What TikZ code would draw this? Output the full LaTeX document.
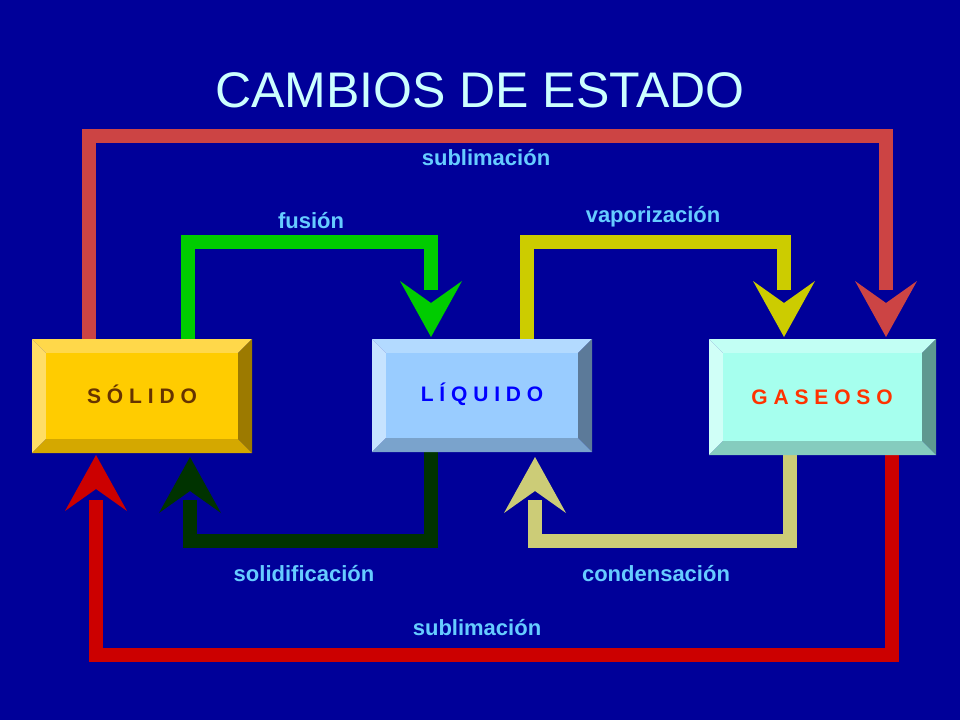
\documentclass[tikz,border=0pt]{standalone}
\usepackage{fontspec}
\setmainfont{Liberation Sans}
\begin{document}
\begin{tikzpicture}[x=1pt,y=-1pt,
  lbl/.style={font=\bfseries\fontsize{22}{24}\selectfont,text=lbl},
  boxtxt/.style={font=\bfseries\fontsize{21}{24}\selectfont},
  flow/.style={line width=14pt,line cap=butt,line join=miter}]
\definecolor{bg}{HTML}{000099}
\definecolor{lbl}{HTML}{66CCFF}
\definecolor{ttl}{HTML}{CCFFFF}
\definecolor{cRedA}{HTML}{CC4444}
\definecolor{cRedB}{HTML}{CC0000}
\definecolor{cGreen}{HTML}{00CC00}
\definecolor{cDark}{HTML}{003300}
\definecolor{cYel}{HTML}{CCCC00}
\definecolor{cKhaki}{HTML}{CCCC77}
\fill[bg] (0,0) rectangle (960,720);
\useasboundingbox (0,0) rectangle (960,720);
% bevel box macro
\newcommand\bbox[9]{% x1 y1 x2 y2 face top left right bottom
  \fill[#6] (#1,#2) -- (#3,#2) -- (#3-14,#2+14) -- (#1+14,#2+14) -- cycle;
  \fill[#7] (#1,#2) -- (#1+14,#2+14) -- (#1+14,#4-14) -- (#1,#4) -- cycle;
  \fill[#8] (#3,#2) -- (#3,#4) -- (#3-14,#4-14) -- (#3-14,#2+14) -- cycle;
  \fill[#9] (#1,#4) -- (#1+14,#4-14) -- (#3-14,#4-14) -- (#3,#4) -- cycle;
  \fill[#5] (#1+14,#2+14) rectangle (#3-14,#4-14);}
\newcommand\headdown[3]{\fill[#3] (#1,#2) -- (#1-31,#2-56) -- (#1,#2-34) -- (#1+31,#2-56) -- cycle;}
\newcommand\headup[3]{\fill[#3] (#1,#2) -- (#1-31,#2+56) -- (#1,#2+34) -- (#1+31,#2+56) -- cycle;}
% connectors
\draw[flow,cRedA] (89,339) -- (89,136) -- (886,136) -- (886,290);
\headdown{886}{337}{cRedA}
\draw[flow,cGreen] (188,339) -- (188,242) -- (431,242) -- (431,290);
\headdown{431}{337}{cGreen}
\draw[flow,cYel] (527,339) -- (527,242) -- (784,242) -- (784,290);
\headdown{784}{337}{cYel}
\draw[flow,cDark] (431,452) -- (431,541) -- (190,541) -- (190,500);
\headup{190}{457}{cDark}
\draw[flow,cKhaki] (790,455) -- (790,541) -- (535,541) -- (535,500);
\headup{535}{457}{cKhaki}
\draw[flow,cRedB] (892,455) -- (892,655) -- (96,655) -- (96,500);
\headup{96}{455}{cRedB}
% boxes
\definecolor{sf}{HTML}{FFCC00}\definecolor{st}{HTML}{FFD84A}\definecolor{sl}{HTML}{FFDD66}\definecolor{sr}{HTML}{9C7A00}\definecolor{sb}{HTML}{D4A800}
\bbox{32}{339}{252}{453}{sf}{st}{sl}{sr}{sb}
\definecolor{lf}{HTML}{99CCFF}\definecolor{lt}{HTML}{B3DAFF}\definecolor{ll}{HTML}{C6E3FF}\definecolor{lr}{HTML}{5C7A99}\definecolor{lb}{HTML}{7AA3CC}
\bbox{372}{339}{592}{452}{lf}{lt}{ll}{lr}{lb}
\definecolor{gf}{HTML}{A6FFEE}\definecolor{gt}{HTML}{C2FFF4}\definecolor{gl}{HTML}{D0FFF7}\definecolor{gr}{HTML}{5E9990}\definecolor{gb}{HTML}{85CCBE}
\bbox{709}{339}{936}{455}{gf}{gt}{gl}{gr}{gb}
\node[boxtxt,text={rgb,255:red,102;green,51;blue,0}] (sol) at (142,394) {S Ó L I D O};
\node[boxtxt,text={rgb,255:red,0;green,0;blue,255}] (liq) at (482,394) {L Í Q U I D O};
\node[boxtxt,text={rgb,255:red,255;green,51;blue,0}] (gas) at (822,397) {G A S E O S O};
% texts
\node[font=\fontsize{50}{56}\selectfont,text=ttl] (title) at (480,90) {CAMBIOS DE ESTADO};
\node[lbl] (l1) at (486,158) {sublimación};
\node[lbl] (l2) at (311,221) {fusión};
\node[lbl] (l3) at (653,217) {vaporización};
\node[lbl] (l4) at (304,574) {solidificación};
\node[lbl] (l5) at (656,574) {condensación};
\node[lbl] (l6) at (477,628) {sublimación};
\end{tikzpicture}
\end{document}
